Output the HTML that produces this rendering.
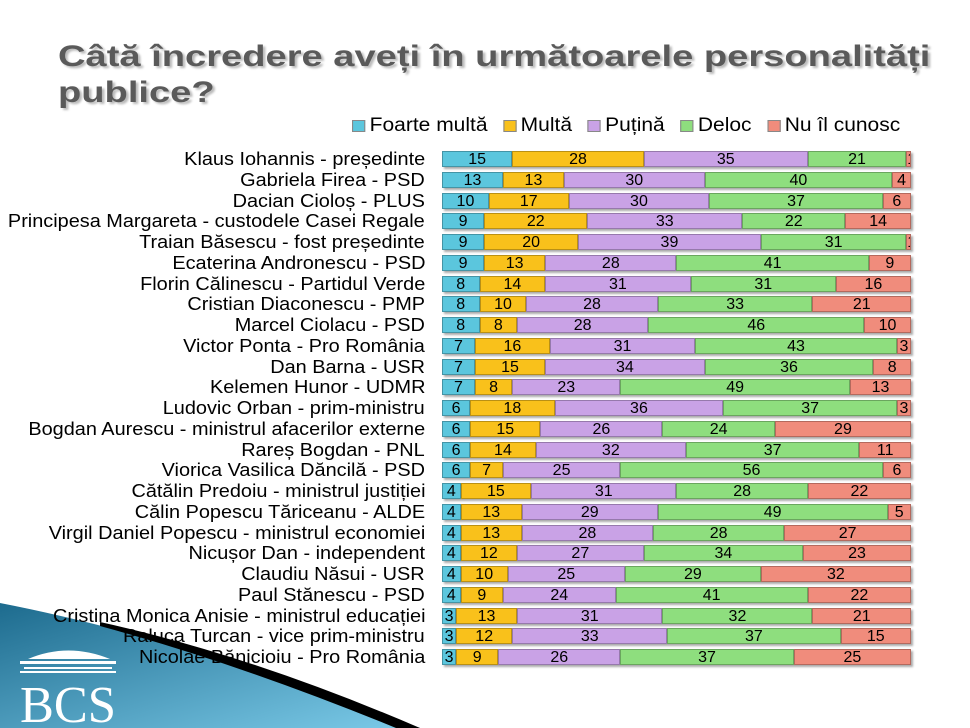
<!DOCTYPE html>
<html><head><meta charset="utf-8"><style>
body{margin:0;width:970px;height:728px;overflow:hidden;background:#fff;font-family:"Liberation Sans",sans-serif;position:relative}
.t{position:absolute;left:58px;top:39px;font-size:30px;font-weight:bold;color:#5a5a5a;line-height:36px;text-shadow:2px 2px 2px #bbb;transform:scaleX(1.27);transform-origin:left top;white-space:nowrap}
.lg{position:absolute;top:115px;left:352px;font-size:19px;display:flex;gap:14px;transform:scaleX(1.105);transform-origin:left top;white-space:nowrap}
.lg span{display:flex;align-items:center}
.lg i{display:inline-block;width:10px;height:10px;border:1px solid #888;margin-right:4px}
.row{position:absolute;left:0;height:17px;width:970px}
.lab{position:absolute;right:545px;top:-3px;font-size:18.5px;white-space:nowrap;color:#000;transform:scaleX(1.075);transform-origin:right top}
.bar{position:absolute;left:442px;width:469px;height:16px;display:flex;box-shadow:2px 2px 2px #aaa}
.bar div{height:100%;box-sizing:border-box;border:1px solid rgba(0,0,0,.25);font-size:16px;text-align:center;line-height:15px;overflow:hidden}
</style></head><body>
<svg width="970" height="728" style="position:absolute;left:0;top:0">
<defs><linearGradient id="g" x1="0" y1="0" x2="1" y2="1"><stop offset="0" stop-color="#1d6b8e"/><stop offset="1" stop-color="#7ccbe9"/></linearGradient></defs>
<path d="M0,603 Q180,638 420,728 L0,728Z" fill="url(#g)"/>
<path d="M100,622 Q250,655 420,728 L396,728 Q240,664 100,626Z" fill="#000"/>
<g fill="#fff"><path d="M28,659 Q68,642 110,659Z"/><rect x="20" y="661" width="96" height="3"/><rect x="24" y="667" width="88" height="2"/><rect x="20" y="671" width="96" height="2"/></g>
<text x="20" y="722" font-family="Liberation Serif" font-size="52" fill="#fff" textLength="96" lengthAdjust="spacingAndGlyphs">BCS</text>
</svg>
<div class="t">Câtă încredere aveți în următoarele personalități<br>publice?</div>
<div class="lg"><span><i style="background:#5bc6dd"></i>Foarte multă</span><span><i style="background:#f9c11b"></i>Multă</span><span><i style="background:#c9a2e6"></i>Puțină</span><span><i style="background:#8ede7e"></i>Deloc</span><span><i style="background:#f08c7c"></i>Nu îl cunosc</span></div>
<div id="c"></div>
<script>
var d=[["Klaus Iohannis - președinte",15,28,35,21,1],["Gabriela Firea - PSD",13,13,30,40,4],["Dacian Cioloș - PLUS",10,17,30,37,6],["Principesa Margareta - custodele Casei Regale",9,22,33,22,14],["Traian Băsescu - fost președinte",9,20,39,31,1],["Ecaterina Andronescu - PSD",9,13,28,41,9],["Florin Călinescu - Partidul Verde",8,14,31,31,16],["Cristian Diaconescu - PMP",8,10,28,33,21],["Marcel Ciolacu - PSD",8,8,28,46,10],["Victor Ponta - Pro România",7,16,31,43,3],["Dan Barna - USR",7,15,34,36,8],["Kelemen Hunor - UDMR",7,8,23,49,13],["Ludovic Orban - prim-ministru",6,18,36,37,3],["Bogdan Aurescu - ministrul afacerilor externe",6,15,26,24,29],["Rareș Bogdan - PNL",6,14,32,37,11],["Viorica Vasilica Dăncilă - PSD",6,7,25,56,6],["Cătălin Predoiu - ministrul justiției",4,15,31,28,22],["Călin Popescu Tăriceanu - ALDE",4,13,29,49,5],["Virgil Daniel Popescu - ministrul economiei",4,13,28,28,27],["Nicușor Dan - independent",4,12,27,34,23],["Claudiu Năsui - USR",4,10,25,29,32],["Paul Stănescu - PSD",4,9,24,41,22],["Cristina Monica Anisie - ministrul educației",3,13,31,32,21],["Raluca Turcan - vice prim-ministru",3,12,33,37,15],["Nicolae Bănicioiu - Pro România",3,9,26,37,25]];
var col=["#5bc6dd","#f9c11b","#c9a2e6","#8ede7e","#f08c7c"],h="";
d.forEach(function(r,i){var y=151+i*20.75,s=r[1]+r[2]+r[3]+r[4]+r[5];
h+='<div class="row" style="top:'+y+'px"><div class="lab">'+r[0]+'</div><div class="bar">';
for(var k=1;k<6;k++)h+='<div style="width:'+(r[k]/s*100)+'%;background:'+col[k-1]+'">'+r[k]+'</div>';
h+='</div></div>';});
document.getElementById("c").innerHTML=h;
</script>
</body></html>
